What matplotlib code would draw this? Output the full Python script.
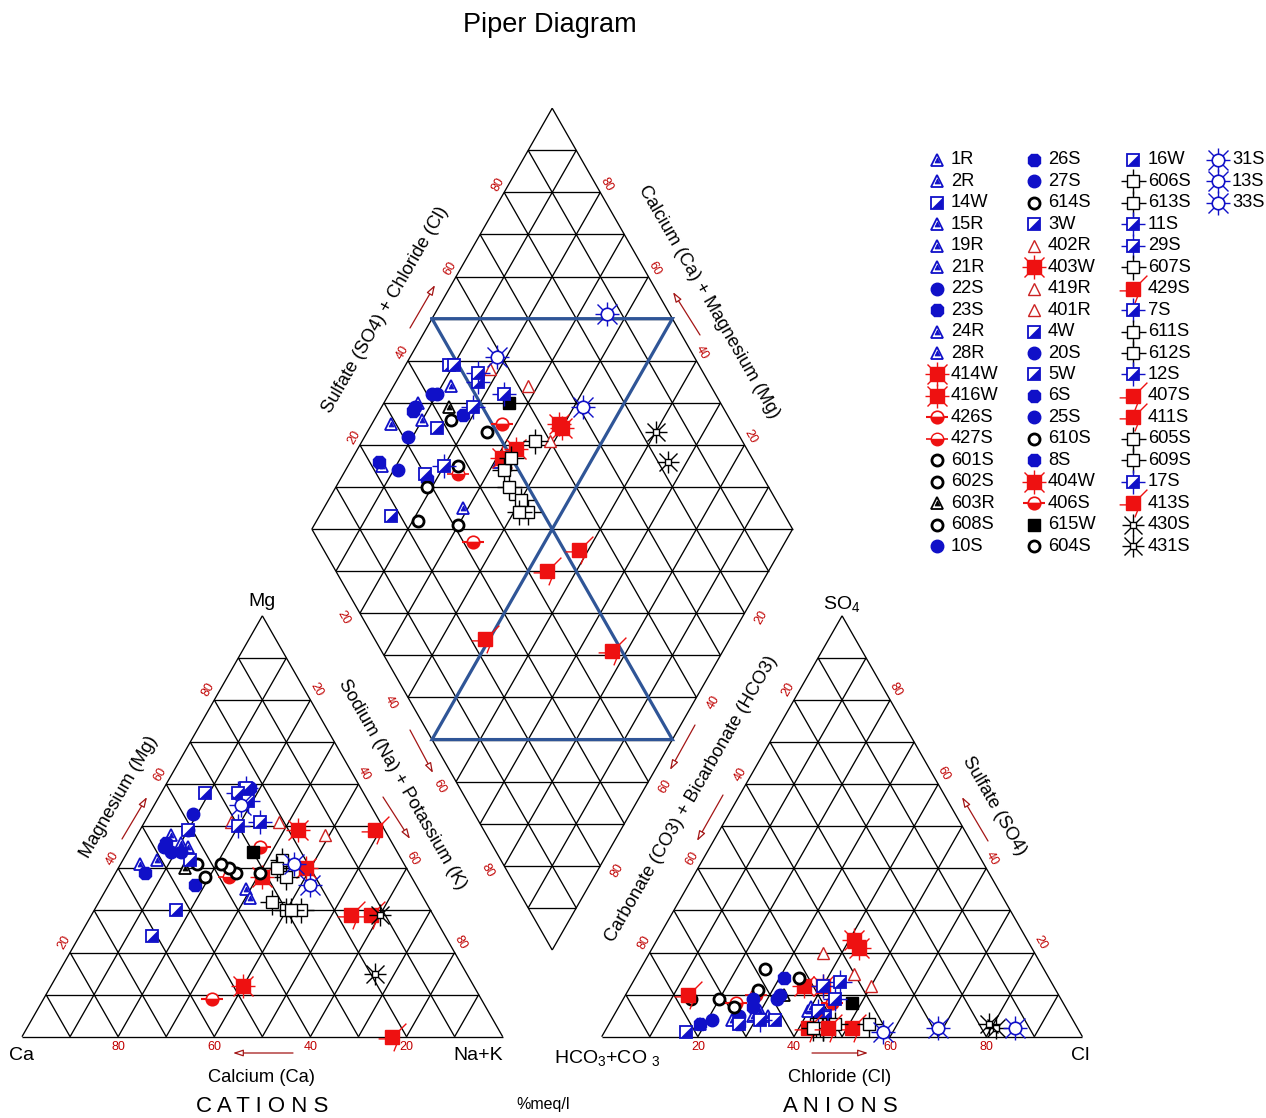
import numpy as np
import matplotlib
matplotlib.use("Agg")
import matplotlib.pyplot as plt
from matplotlib.path import Path

plt.rcParams['font.family'] = ['Liberation Sans', 'DejaVu Sans']
plt.rcParams['mathtext.fontset'] = 'custom'
plt.rcParams['mathtext.rm'] = 'Liberation Sans'
plt.rcParams['mathtext.it'] = 'Liberation Sans'

# ---------------- sample chemistry (% meq/l) ----------------
sample_ids = ['1R', '2R', '14W', '15R', '19R', '21R', '22S', '23S', '24R', '28R',
              '414W', '416W', '426S', '427S', '601S', '602S', '603R', '608S', '10S',
              '26S', '27S', '614S', '3W', '402R', '403W', '419R', '401R', '4W', '20S',
              '5W', '6S', '25S', '610S', '8S', '404W', '406S', '615W', '604S',
              '16W', '606S', '613S', '11S', '29S', '607S', '429S', '7S', '611S', '612S',
              '12S', '407S', '411S', '605S', '609S', '17S', '413S', '430S', '431S',
              '31S', '13S', '33S']

ca = [43, 51, 33, 44, 55, 45, 38, 46, 36, 36, 18, 31, 28, 38, 43, 36, 46, 37, 41,
      47, 47, 43, 41, 31, 21, 21, 13, 44, 45, 53, 55, 48, 38, 23, 48, 56, 30, 31,
      61, 27, 25, 24, 26, 26, 13, 25, 32, 30, 25, 17, 2, 29, 27, 30, 23, 11, 19,
      23, 27, 22]
mg = [45, 42, 58, 46, 41, 48, 53, 36, 35, 33, 49, 38, 45, 38, 41, 39, 40, 40, 49,
      46, 44, 38, 49, 51, 40, 51, 48, 42, 44, 30, 39, 45, 41, 59, 12, 9, 44, 39,
      24, 30, 42, 59, 58, 38, 29, 51, 32, 30, 56, 29, 49, 30, 40, 50, 0, 29, 15,
      41, 55, 36]
nak = [12, 7, 9, 10, 4, 7, 9, 18, 29, 31, 33, 31, 27, 24, 16, 25, 14, 23, 10,
       7, 9, 19, 10, 18, 39, 28, 39, 14, 11, 17, 6, 7, 21, 18, 40, 35, 26, 30,
       15, 43, 33, 17, 16, 36, 58, 24, 36, 40, 19, 54, 49, 41, 33, 20, 77, 60, 66,
       36, 18, 42]
hco3 = [54, 63, 52, 64, 71, 78, 59, 70, 66, 53, 48, 52, 48, 63, 58, 52, 57, 62, 58,
        65, 69, 71, 51, 44, 36, 38, 40, 62, 75, 70, 78, 64, 77, 55, 36, 68, 44, 69,
        82, 53, 53, 48, 47, 54, 47, 44, 43, 53, 52, 56, 77, 55, 50, 65, 52, 17, 18,
        13, 41, 29]
cl = [40, 32, 42, 30, 25, 19, 32, 27, 29, 40, 40, 36, 44, 27, 26, 34, 33, 27, 32,
      28, 26, 20, 44, 36, 41, 50, 45, 34, 21, 27, 19, 27, 14, 31, 43, 24, 48, 24,
      17, 45, 44, 40, 44, 43, 51, 43, 54, 45, 42, 42, 13, 43, 47, 31, 46, 81, 79,
      85, 58, 69]
so4 = [6, 5, 6, 6, 4, 3, 9, 3, 5, 7, 12, 12, 8, 10, 16, 14, 10, 11, 10,
       7, 5, 9, 5, 20, 23, 12, 15, 4, 4, 3, 3, 9, 9, 14, 21, 8, 8, 7,
       1, 2, 3, 12, 9, 3, 2, 13, 3, 2, 6, 2, 10, 2, 3, 4, 2, 2, 3,
       2, 1, 2]
symbol = ['tri_b', 'tri_b', 'hsq_b', 'tri_b', 'tri_b', 'tri_b', 'circ_b', 'oct_b', 'tri_b', 'tri_b',
          'sq_r8', 'sq_r8', 'bowl_r', 'bowl_r2', 'circ_k', 'circ_k', 'tri_k', 'circ_k', 'circ_b',
          'oct_b', 'circ_b', 'circ_k', 'hsq_b', 'tri_r', 'sq_r8', 'tri_r', 'tri_r', 'hsq_b', 'circ_b',
          'hsq_b', 'oct_b', 'circ_b', 'circ_k', 'oct_b', 'sq_r8', 'bowl_r', 'sq_k', 'circ_k',
          'hsq_b', 'sq_ks', 'sq_ks', 'hsq_bs', 'hsq_bs', 'sq_ks', 'sq_r1', 'hsq_bs', 'sq_ks', 'sq_ks',
          'hsq_bs', 'sq_r1', 'sq_r1', 'sq_ks', 'sq_ks', 'hsq_bs', 'sq_r1', 'star_k', 'star_k',
          'sun_b', 'sun_b', 'sun_b']
legend_columns = [19, 19, 19, 3]
tick_values = [20, 40, 60, 80]

# ---------------- canvas ----------------
W, H = 1266, 1118
SX, SY = 480.7, 486.0          # pixels per unit triangle side
X0, Y0 = 22.0, 1036.7          # pixel position of the Ca corner
fig = plt.figure(figsize=(W / 100, H / 100), dpi=100)
ax = fig.add_axes([0, 0, 1, 1])
ax.set_xlim(-X0 / SX, (W - X0) / SX)
ax.set_ylim(-(H - Y0) / SY, Y0 / SY)
ax.axis('off')


def P(px, py):
    """pixel position -> data position"""
    return ((px - X0) / SX, (Y0 - py) / SY)


h = np.sqrt(3) / 2
GAP = 0.206
XB, YB = 1 + GAP / 2, GAP / 2 * np.sqrt(3)


def cat_xy(m, n):          # fractions Mg, Na+K
    return (n + m / 2, m * h)


def an_xy(s, c):           # fractions SO4, Cl
    return (1 + GAP + c + s / 2, s * h)


def dia_xy(n, s):          # fractions Na+K, SO4+Cl
    return (XB + 0.5 * (s - (1 - n)), YB + h * (s + 1 - n))


GRID = dict(color='k', lw=0.95, zorder=1, solid_capstyle='butt')


def seg(p, q, **kw):
    ax.plot([p[0], q[0]], [p[1], q[1]], **{**GRID, **kw})


# triangles
for f in np.arange(0, 1.01, 0.1):
    for fn in (cat_xy, an_xy):
        seg(fn(f, 0), fn(f, 1 - f))
        seg(fn(0, f), fn(1 - f, f))
        seg(fn(0, 1 - f), fn(1 - f, 0))
# diamond
for f in np.arange(0, 1.01, 0.1):
    seg(dia_xy(f, 0), dia_xy(f, 1))
    seg(dia_xy(0, f), dia_xy(1, f))
for k in range(1, 20):
    t = k / 10
    if t <= 1:
        seg(dia_xy(1 - t, 0), dia_xy(1, t))
    else:
        seg(dia_xy(0, t - 1), dia_xy(2 - t, 1))

# hourglass in the diamond
hg_n = [0.0, 0.5, 0.5, 1.0, 0.0]
hg_s = [0.5, 1.0, 0.0, 0.5, 0.5]
hg = np.array([dia_xy(a, b) for a, b in zip(hg_n, hg_s)])
ax.plot(hg[:, 0], hg[:, 1], color='#2f5597', lw=2.3, zorder=2, solid_joinstyle='miter')

# ---------------- tick labels ----------------
TICK = dict(fontsize=9, color='#c00000', ha='center', va='center', zorder=3)
U_L = (-h, 0.5); U_R = (h, 0.5); D_L = (-h, -0.5); D_R = (h, -0.5)
A_UPR = (0.5, h); A_UPL = (-0.5, h)


def tlabel(p, nv, av, dn, da, txt, rot):
    x = p[0] + (nv[0] * dn + av[0] * da) / SX
    y = p[1] + (nv[1] * dn + av[1] * da) / SY
    ax.text(x, y, txt, rotation=rot, **TICK)


for v in tick_values:
    f = v / 100
    # cations
    tlabel(cat_xy(f, 0), U_L, A_UPR, 10, 6, str(v), 60)
    tlabel(cat_xy(1 - f, f), U_R, A_UPL, 10, 6, str(v), -60)
    tlabel(cat_xy(0, 1 - f), (0, -1), (1, 0), 10, 0, str(v), 0)
    # anions
    tlabel(an_xy(1 - f, 0), U_L, A_UPR, 10, 6, str(v), 60)
    tlabel(an_xy(f, 1 - f), U_R, A_UPL, 10, 6, str(v), -60)
    tlabel(an_xy(0, f), (0, -1), (1, 0), 10, 0, str(v), 0)
    # diamond
    tlabel(dia_xy(0, f), U_L, A_UPR, 9, 4, str(v), 60)
    tlabel(dia_xy(1 - f, 1), U_R, A_UPL, 9, 4, str(v), -60)
    tlabel(dia_xy(f, 0), D_L, A_UPL, 17, 4.5, str(v), -60)
    tlabel(dia_xy(1, 1 - f), D_R, A_UPR, 17, 4.5, str(v), 60)

# ---------------- titles ----------------
LAB = dict(ha='center', va='center', zorder=3)
ax.text(*P(550, 25), 'Piper Diagram', fontsize=19.5, **LAB)
ax.text(*P(262, 601), 'Mg', fontsize=14, **LAB)
ax.text(*P(22, 1056), 'Ca', fontsize=14, **LAB)
ax.text(*P(478, 1056), 'Na+K', fontsize=14, **LAB)
ax.text(*P(842, 604), 'SO$_4$', fontsize=14, **LAB)
ax.text(*P(607, 1058), 'HCO$_3$+CO $_3$', fontsize=14, **LAB)
ax.text(*P(1080, 1056), 'Cl', fontsize=14, **LAB)
ax.text(*P(261, 1078), 'Calcium (Ca)', fontsize=13.2, **LAB)
ax.text(*P(840, 1078), 'Chloride (Cl)', fontsize=13.2, **LAB)
ax.text(*P(262, 1106), 'C A T I O N S', fontsize=16, **LAB)
ax.text(*P(840, 1106), 'A N I O N S', fontsize=16, **LAB)
ax.text(*P(543, 1104), '%meq/l', fontsize=11.5, **LAB)
ax.text(*P(119, 797), 'Magnesium (Mg)', fontsize=13.2, rotation=60, **LAB)
ax.text(*P(402, 785), 'Sodium (Na) + Potassium (K)', fontsize=13.2, rotation=-60, **LAB)
ax.text(*P(385, 310), 'Sulfate (SO4) + Chloride (Cl)', fontsize=13.2, rotation=60, **LAB)
ax.text(*P(709, 302), 'Calcium (Ca) + Magnesium (Mg)', fontsize=13.2, rotation=-60, **LAB)
ax.text(*P(692, 799), 'Carbonate (CO3) + Bicarbonate (HCO3)', fontsize=13.2, rotation=60, **LAB)
ax.text(*P(994, 806), 'Sulfate (SO4)', fontsize=13.2, rotation=-60, **LAB)

# direction arrows
arrows = [((122, 839), (147, 797)), ((383, 797), (410, 839)), ((293, 1053), (233, 1053)),
          ((723, 795), (697, 841)), ((988, 841), (962, 797)), ((812, 1053), (868, 1053)),
          ((410, 328), (435, 285)), ((700, 335), (673, 292)),
          ((410, 730), (433, 773)), ((695, 725), (670, 770))]
for a, b in arrows:
    ax.annotate('', xy=P(*b), xytext=P(*a),
                arrowprops=dict(arrowstyle='-|>,head_length=0.6,head_width=0.2',
                                ec='#a31515', fc='white', lw=0.9,
                                shrinkA=0, shrinkB=0), zorder=3)

# ---------------- symbols ----------------
BLUE = '#1010c8'
RED = '#ee1111'
HALF = Path([(-1, -1), (1, -1), (1, 1), (-1, -1)],
            [Path.MOVETO, Path.LINETO, Path.LINETO, Path.CLOSEPOLY])
SPIKE = Path([(0, 0), (1, 1), (-1, -0.1), (-0.5, -0.1), (0.1, -1), (0.3, -0.5)],
             [Path.MOVETO, Path.LINETO, Path.MOVETO, Path.LINETO, Path.MOVETO, Path.LINETO])


def L(marker, ms, mfc, mec, mew, **kw):
    return dict(marker=marker, ms=ms, mfc=mfc, mec=mec, mew=mew, **kw)


STYLES = {
    'tri_b': [L('^', 8.5, 'white', BLUE, 1.3), L('^', 3.5, BLUE, BLUE, 0.6)],
    'tri_k': [L('^', 8.5, 'white', 'k', 1.3), L('^', 3.5, 'k', 'k', 0.6)],
    'tri_r': [L('^', 9, 'white', '#cc2222', 1.0)],
    'circ_b': [L('o', 9, BLUE, BLUE, 1.0)],
    'oct_b': [L('8', 10, BLUE, BLUE, 1.0)],
    'circ_k': [L('o', 8, 'white', 'k', 2.0)],
    'hsq_b': [L('s', 8, 'white', BLUE, 1.3), L(HALF, 7, BLUE, BLUE, 0.5)],
    'hsq_bs': [L('+', 17, 'none', BLUE, 1.0), L('s', 8, 'white', BLUE, 1.3),
               L(HALF, 7, BLUE, BLUE, 0.5)],
    'sq_r8': [L('+', 17, 'none', RED, 1.0), L('x', 14, 'none', RED, 1.0),
              L('s', 9.5, RED, RED, 1.0)],
    'sq_r1': [L(SPIKE, 20, 'none', RED, 1.0), L('s', 9.5, RED, RED, 1.0)],
    'bowl_r': [L('_', 16, 'none', RED, 1.5),
               L('o', 9, RED, RED, 1.2, fillstyle='bottom', markerfacecoloralt='white')],
    'bowl_r2': [L('_', 16, 'none', RED, 1.2),
                L('o', 9, RED, RED, 1.0, fillstyle='bottom', markerfacecoloralt='white')],
    'sq_k': [L('s', 8, 'k', 'k', 1.0)],
    'sq_ks': [L('+', 18, 'none', 'k', 1.0), L('s', 9, 'white', 'k', 1.0)],
    'star_k': [L('+', 16, 'none', 'k', 1.0), L('x', 13, 'none', 'k', 1.0),
               L('s', 5, 'white', 'k', 1.0)],
    'sun_b': [L('+', 17, 'none', BLUE, 1.0), L('x', 14, 'none', BLUE, 1.0),
              L('o', 9, 'white', BLUE, 1.2)],
}


def draw_symbol(x, y, key, **kw):
    for layer in STYLES[key]:
        ax.plot([x], [y], ls='none', zorder=5, **layer, **kw)


for i, sid in enumerate(sample_ids):
    pts = [cat_xy(mg[i] / 100, nak[i] / 100),
           an_xy(so4[i] / 100, cl[i] / 100),
           dia_xy(nak[i] / 100, (so4[i] + cl[i]) / 100)]
    for x, y in pts:
        draw_symbol(x, y, symbol[i])

# ---------------- legend ----------------
col_mark_x = [937, 1034, 1133, 1218]
col_text_x = [951, 1048, 1148, 1232]
row_y0, row_dy = 160, 21.45
start = 0
for c, count in enumerate(legend_columns):
    for r in range(count):
        i = start + r
        py = row_y0 + r * row_dy
        draw_symbol(col_mark_x[c] / W, 1 - py / H, symbol[i],
                    transform=fig.transFigure, clip_on=False)
        fig.text(col_text_x[c] / W, 1 - py / H, sample_ids[i], fontsize=13.2,
                 ha='left', va='center')
    start += count

fig.savefig('out.png', dpi=100)
